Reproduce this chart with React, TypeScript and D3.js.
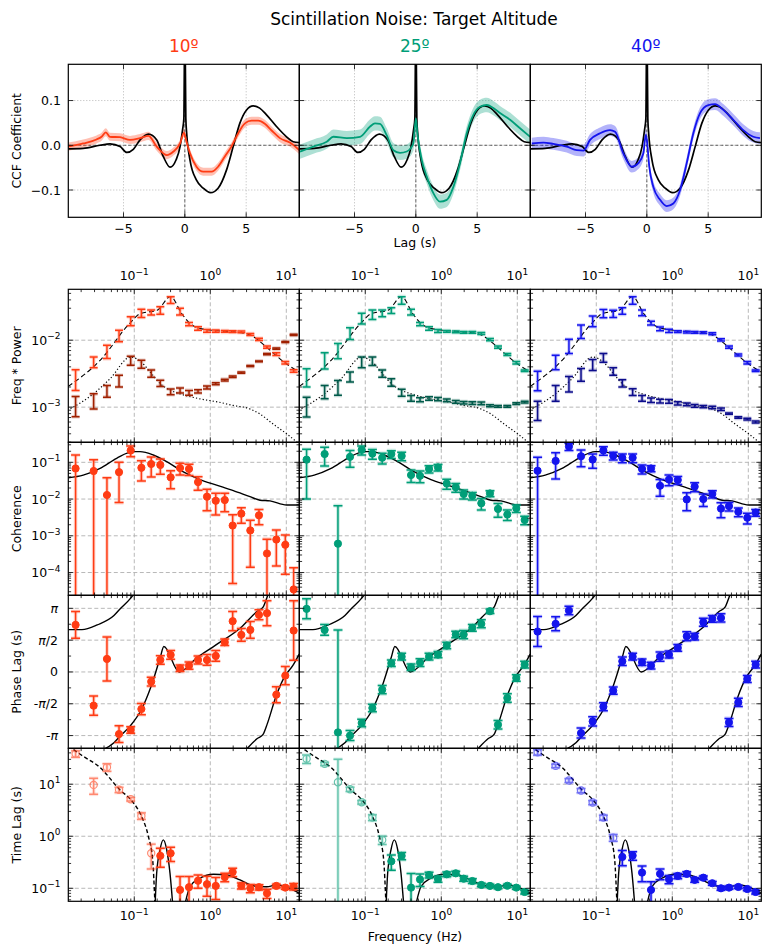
import * as d3 from "d3";

type Pt = [number, number];

const altitudes = ["10º", "25º", "40º"];
const mainColors = ["#ff3c14", "#009e78", "#1414ee"];
const darkColors = ["#a02000", "#005a4a", "#0c0c8c"];

// ---------- CCF (top row) ----------
const ccfModel: Pt[] = [
    [-9.5, -0.008], [-8.29, -0.007], [-6.92, 0.0], [-6.1, 0.003], [-5.28, -0.003],
    [-4.73, -0.016], [-4.2, -0.009], [-3.65, 0.012], [-2.97, 0.025], [-2.29, 0.012],
    [-1.76, -0.025], [-1.2, -0.049], [-0.72, -0.033], [-0.39, -0.003], [-0.19, 0.034],
    [-0.08, 0.06], [0, 0.3], [0.08, 0.06], [0.15, 0.027], [0.42, -0.033], [0.95, -0.078],
    [1.5, -0.096], [2.1, -0.106], [2.71, -0.096], [3.4, -0.055], [3.94, -0.003],
    [4.48, 0.049], [5.03, 0.079], [5.57, 0.088], [6.1, 0.083], [6.66, 0.068],
    [7.47, 0.042], [8.29, 0.019], [8.83, 0.008], [9.33, 0.006],
];
const ccf10: Pt[] = [
    [-9.5, -0.003], [-8.29, 0.004], [-7.2, 0.013], [-6.79, 0.019], [-6.44, 0.029],
    [-6.11, 0.019], [-5.28, 0.018], [-4.47, 0.012], [-3.65, 0.016], [-2.97, 0.021],
    [-2.29, -0.003], [-1.47, -0.022], [-0.93, -0.014], [-0.39, 0.004], [-0.07, 0.028],
    [0.1, 0.012], [0.42, -0.018], [0.95, -0.048], [1.5, -0.059], [2.18, -0.059],
    [2.71, -0.048], [3.26, -0.025], [3.8, -0.003], [4.35, 0.027], [4.9, 0.049],
    [5.44, 0.055], [5.98, 0.055], [6.52, 0.048], [7.07, 0.033], [7.75, 0.016],
    [8.56, 0.006], [9.33, -0.011],
];
const ccf25: Pt[] = [
    [-9.44, -0.014], [-8.35, -0.003], [-7.26, 0.008], [-6.72, 0.019], [-5.63, 0.016],
    [-4.55, 0.019], [-3.73, 0.042], [-3.33, 0.049], [-2.92, 0.048], [-2.37, 0.022],
    [-1.83, -0.011], [-1.29, -0.017], [-0.74, -0.014], [-0.2, 0.004], [0, 0.06],
    [0.12, 0.027], [0.48, -0.033], [0.89, -0.07], [1.43, -0.107], [1.97, -0.126],
    [2.52, -0.122], [3.06, -0.093], [3.6, -0.04], [4.15, 0.027], [4.69, 0.068],
    [5.23, 0.086], [5.78, 0.09], [6.32, 0.083], [6.86, 0.072], [7.68, 0.057],
    [8.49, 0.038], [9.31, 0.019],
];
const ccf40: Pt[] = [
    [-9.38, 0.004], [-8.43, 0.006], [-7.62, 0.003], [-6.53, -0.003], [-5.71, -0.011],
    [-5.17, -0.012], [-4.63, 0.012], [-3.81, 0.027], [-3.0, 0.034], [-2.59, 0.03],
    [-1.92, -0.018], [-1.23, -0.048], [-0.69, -0.04], [-0.28, -0.018], [-0.09, 0.023],
    [0, 0.012], [0.2, -0.048], [0.53, -0.093], [1.08, -0.122], [1.62, -0.136],
    [2.16, -0.13], [2.71, -0.1], [3.25, -0.04], [3.79, 0.027], [4.34, 0.072],
    [5.01, 0.09], [5.56, 0.092], [6.23, 0.079], [7.05, 0.057], [7.86, 0.034],
    [8.68, 0.019], [9.22, 0.016],
];
const ccfData = [ccf10, ccf25, ccf40];
const ccfBand = [0.009, 0.016, 0.013];
const ccfTicksX = [-5, 0, 5];
const ccfTicksY = [-0.1, 0, 0.1];

// ---------- frequency bins ----------
const freq = [
    0.0169, 0.0292, 0.0437, 0.063, 0.0897, 0.124, 0.167, 0.22, 0.301, 0.4, 0.525, 0.69,
    0.905, 1.18, 1.55, 1.97, 2.56, 3.36, 4.37, 5.57, 7.39, 9.7, 12.5,
];

// ---------- Freq * Power ----------
const pow10 = [0.0027, 0.00476, 0.00686, 0.0118, 0.0194, 0.0254, 0.026, 0.028, 0.04, 0.0268, 0.0174, 0.015, 0.0138, 0.01365, 0.0135, 0.0134, 0.0133, 0.0122, 0.0103, 0.0079, 0.0062, 0.0046, 0.00346];
const powErr10 = [0.00093, 0.00087, 0.00155, 0.0023, 0.003, 0.0035, 0.0022, 0.0035, 0.0046, 0.0031, 0.001, 0.0009, 0.0007, 0.0005, 0.0004, 0.0004, 0.0004, 0.0004, 0.0004, 0.0003, 0.0003, 0.0002, 0.00015];
const ref10 = [0.00108, 0.00126, 0.00176, 0.0025, 0.005, 0.0044, 0.0032, 0.00228, 0.0017, 0.00178, 0.00164, 0.00172, 0.00197, 0.00224, 0.00254, 0.00285, 0.00328, 0.0041, 0.00484, 0.0062, 0.0075, 0.0094, 0.012];
const refErr10 = [0.00036, 0.00032, 0.00035, 0.0005, 0.00077, 0.0006, 0.0004, 0.00024, 0.00017, 0.00016, 0.00014, 0.0001, 0.0001, 0.00008, 0.00008, 0.00007, 0.00007, 0.00007, 0.00006, 0.00012, 0.00015, 0.0002, 0.00025];

const pow25 = [0.00288, 0.0051, 0.0071, 0.0128, 0.0213, 0.0243, 0.0253, 0.0278, 0.0395, 0.0263, 0.0174, 0.015, 0.0137, 0.0135, 0.0133, 0.0131, 0.0131, 0.0126, 0.0102, 0.0079, 0.0061, 0.00462, 0.0035];
const powErr25 = [0.00088, 0.0014, 0.0018, 0.0026, 0.0039, 0.0039, 0.0029, 0.0027, 0.0052, 0.0026, 0.001, 0.0009, 0.0007, 0.0004, 0.0004, 0.0004, 0.0004, 0.0004, 0.0004, 0.0003, 0.0002, 0.0002, 0.0001];
const ref25 = [0.00106, 0.00172, 0.002, 0.00286, 0.00476, 0.0049, 0.0032, 0.00235, 0.00165, 0.00136, 0.00129, 0.00135, 0.00132, 0.00126, 0.0012, 0.00116, 0.00115, 0.00114, 0.00105, 0.00103, 0.00103, 0.00113, 0.00119];
const refErr25 = [0.00035, 0.00039, 0.0005, 0.00049, 0.00087, 0.0007, 0.0004, 0.0003, 0.0002, 0.00013, 0.00009, 0.00008, 0.00007, 0.00006, 0.00006, 0.00005, 0.00005, 0.00005, 0.00004, 0.00003, 0.00003, 0.00003, 0.00004];

const pow40 = [0.0026, 0.0048, 0.0083, 0.0137, 0.0194, 0.0252, 0.025, 0.0274, 0.0395, 0.0257, 0.018, 0.0148, 0.0138, 0.0134, 0.0132, 0.0131, 0.013, 0.0125, 0.0101, 0.0079, 0.006, 0.0046, 0.0035];
const powErr40 = [0.00085, 0.00117, 0.002, 0.0031, 0.0035, 0.0036, 0.0031, 0.0031, 0.0052, 0.0025, 0.0012, 0.001, 0.0008, 0.0004, 0.0004, 0.0004, 0.0004, 0.0004, 0.0004, 0.0003, 0.0002, 0.0002, 0.0001];
const ref40 = [0.00093, 0.00167, 0.00228, 0.0031, 0.00434, 0.0055, 0.00344, 0.00228, 0.00169, 0.00136, 0.00127, 0.00123, 0.00122, 0.00114, 0.0011, 0.00105, 0.00102, 0.00099, 0.00093, 0.0008, 0.0007, 0.00066, 0.0006];
const refErr40 = [0.0003, 0.00044, 0.0006, 0.00067, 0.0008, 0.0008, 0.00045, 0.00028, 0.0002, 0.00013, 0.0001, 0.00008, 0.00008, 0.00006, 0.00005, 0.00005, 0.00004, 0.00004, 0.00004, 0.00002, 0.00002, 0.00002, 0.00002];

const powModel: Pt[] = [
    [0.01355, 0.00204], [0.0355, 0.005], [0.0897, 0.0185], [0.12, 0.025], [0.2, 0.028],
    [0.3, 0.045], [0.42, 0.025], [0.54, 0.0178], [0.73, 0.015], [1.28, 0.0138],
    [2.0, 0.0133], [3.16, 0.0123], [4.28, 0.01], [5.52, 0.0078], [7.48, 0.0058],
    [10.1, 0.0044], [14.8, 0.00335],
];
const refModel: Pt[] = [
    [0.0145, 0.00095], [0.029, 0.00158], [0.048, 0.00266], [0.0897, 0.0056], [0.124, 0.0047],
    [0.167, 0.0032], [0.22, 0.00224], [0.3, 0.00178], [0.4, 0.00158], [0.73, 0.00133],
    [1.28, 0.00119], [2.0, 0.00106], [3.33, 0.00094], [4.5, 0.00079], [6.7, 0.00056],
    [10.1, 0.0004], [14.8, 0.00028],
];

// ---------- Coherence ----------
const coh10 = [0.068, 0.058, 0.0129, 0.054, 0.21, 0.071, 0.09, 0.085, 0.039, 0.07, 0.066, 0.029, 0.0116, 0.009, 0.0094, 0.0019, 0.004, 0.0014, 0.0036, 0.00033, 0.00079, 0.00057, 0.0000347];
const cohErr10 = [0.09, 0.06, 0.025, 0.046, 0.068, 0.04, 0.05, 0.038, 0.02, 0.025, 0.022, 0.0117, 0.0068, 0.0053, 0.0049, 0.00185, 0.0018, 0.00126, 0.0016, 0.00048, 0.00064, 0.00048, 0.0001];
const coh25 = [0.118, 0.168, 0.00061, 0.141, 0.218, 0.173, 0.133, 0.168, 0.149, 0.045, 0.043, 0.066, 0.073, 0.0264, 0.021, 0.0138, 0.0123, 0.0077, 0.0142, 0.0054, 0.0038, 0.0056, 0.0027];
const cohErr25 = [0.108, 0.089, 0.006, 0.068, 0.06, 0.052, 0.043, 0.04, 0.038, 0.0167, 0.015, 0.0145, 0.0146, 0.008, 0.0056, 0.0038, 0.0029, 0.0027, 0.0026, 0.0022, 0.0012, 0.0013, 0.0007];
const coh40 = [0.059, 0.109, 0.27, 0.146, 0.119, 0.21, 0.151, 0.133, 0.133, 0.066, 0.068, 0.023, 0.034, 0.033, 0.0098, 0.0218, 0.01, 0.0137, 0.0055, 0.0064, 0.0045, 0.0031, 0.0043];
const cohErr40 = [0.078, 0.074, 0.06, 0.07, 0.05, 0.055, 0.036, 0.035, 0.035, 0.018, 0.013, 0.011, 0.011, 0.008, 0.005, 0.006, 0.0037, 0.003, 0.0024, 0.0017, 0.0012, 0.001, 0.0009];
const cohModel: Pt[] = [
    [0.01355, 0.038], [0.0213, 0.045], [0.0355, 0.0686], [0.0586, 0.129], [0.097, 0.195],
    [0.119, 0.195], [0.178, 0.158], [0.267, 0.104], [0.442, 0.055], [0.731, 0.034],
    [1.21, 0.024], [2.01, 0.0169], [3.33, 0.0116], [4.51, 0.0093], [6.1, 0.0089],
    [10.1, 0.0069], [14.8, 0.0069],
];

// ---------- Phase lag (units of pi) ----------
const phase10 = [0.74, -0.53, 0.205, -0.976, -0.913, -0.583, -0.152, 0.189, 0.268, 0.058, 0.1, 0.189, 0.189, 0.252, 0.467, 0.798, 0.583, 0.661, 0.898, 0.924, -0.357, -0.058, 0.651];
const phaseErr10 = [0.21, 0.152, 0.346, 0.131, 0.052, 0.089, 0.07, 0.066, 0.07, 0.052, 0.058, 0.063, 0.084, 0.084, 0.052, 0.152, 0.102, 0.131, 0.079, 0.197, 0.126, 0.144, 0.467];
const phase25 = [0.992, 0.661, -0.95, -1.0, -0.803, -0.567, -0.278, 0.136, 0.241, 0.073, 0.147, 0.241, 0.273, 0.415, 0.588, 0.588, 0.693, 0.756, 0.955, -0.829, -0.409, -0.094, 0.115];
const phaseErr25 = [0.157, 0.084, 1.61, 0.079, 0.06, 0.06, 0.066, 0.052, 0.052, 0.052, 0.06, 0.052, 0.05, 0.052, 0.052, 0.065, 0.052, 0.063, 0.035, 0.066, 0.066, 0.052, 0.052];
const phase40 = [0.635, 0.756, 0.966, -0.961, -0.777, -0.546, -0.294, 0.168, 0.241, 0.152, 0.1, 0.241, 0.273, 0.378, 0.562, 0.556, 0.782, 0.835, 0.85, -0.793, -0.478, -0.11, 0.115];
const phaseErr40 = [0.236, 0.11, 0.068, 0.079, 0.071, 0.063, 0.058, 0.066, 0.052, 0.052, 0.052, 0.071, 0.055, 0.052, 0.071, 0.052, 0.063, 0.052, 0.066, 0.063, 0.063, 0.055, 0.052];
const phaseModel: Pt[] = [
    [0.01355, 0.666], [0.0205, 0.666], [0.0326, 0.74], [0.054, 0.887], [0.0649, 0.99],
    [0.0897, 1.16], [0.1236, 1.406], [0.1675, 1.784], [0.22, 2.23], [0.245, 2.4],
    [0.39, 2.0], [0.675, 2.23], [1.15, 2.414], [2.53, 2.7], [4.15, 2.954], [4.95, 3.02],
    [5.6, 3.18], [7.24, 3.6], [9.3, 3.906], [12.4, 4.115], [14.8, 4.28],
];
const phaseTicks = [-1, -0.5, 0, 0.5, 1];
const phaseLabels = ["-π", "-π/2", "0", "π/2", "π"];

// ---------- Time lag (s, negative = open marker) ----------
const lag10 = [-38.3, -9.7, -21.2, -7.8, -5.15, -2.46, -0.47, 0.42, 0.47, 0.093, 0.105, 0.14, 0.12, 0.111, 0.164, 0.205, 0.112, 0.1, 0.105, 0.08, 0.111, 0.103, 0.108];
const lagErr10 = [5.4, 3.3, 3.5, 0.9, 0.4, 0.35, 0.235, 0.167, 0.144, 0.075, 0.063, 0.04, 0.05, 0.05, 0.03, 0.038, 0.015, 0.018, 0.012, 0.016, 0.009, 0.007, 0.015];
const lag25 = [-30.7, -24.6, -10.9, -8.0, -4.5, -2.29, -0.85, 0.33, 0.42, 0.103, 0.148, 0.18, 0.151, 0.186, 0.194, 0.153, 0.138, 0.116, 0.111, 0.105, 0.112, 0.103, 0.085];
const lagErr25 = [5.7, 1.8, 19.3, 0.75, 0.35, 0.29, 0.155, 0.107, 0.067, 0.09, 0.04, 0.023, 0.02, 0.02, 0.018, 0.017, 0.014, 0.009, 0.008, 0.007, 0.007, 0.007, 0.007];
const lag40 = [-41.2, -22.5, -11.8, -7.55, -4.44, -2.29, -0.94, 0.4, 0.425, 0.2, 0.093, 0.19, 0.149, 0.173, 0.189, 0.145, 0.16, 0.125, 0.1, 0.103, 0.106, 0.097, 0.085];
const lagErr40 = [5, 1.8, 1.0, 0.7, 0.4, 0.25, 0.14, 0.13, 0.08, 0.067, 0.04, 0.044, 0.027, 0.02, 0.018, 0.015, 0.012, 0.01, 0.008, 0.007, 0.007, 0.007, 0.007];
const lagModelNeg: Pt[] = [
    [0.01355, 55], [0.015, 49], [0.0203, 36], [0.0354, 21], [0.0649, 7.76], [0.0925, 4.8],
    [0.125, 2.38], [0.153, 1.0], [0.1746, 0.35], [0.187, 0.05],
];
const lagModelPos1: Pt[] = [
    [0.188, 0.05], [0.197, 0.195], [0.218, 0.55], [0.241, 0.85], [0.267, 0.55], [0.295, 0.195], [0.32, 0.05],
];
const lagModelPos2: Pt[] = [
    [0.465, 0.05], [0.54, 0.107], [0.73, 0.156], [1.1, 0.186], [1.64, 0.18], [2.46, 0.145],
    [3.68, 0.112], [5.52, 0.107], [7.48, 0.116], [11.2, 0.1], [14.8, 0.08],
];

const powData = [[pow10, powErr10, ref10, refErr10], [pow25, powErr25, ref25, refErr25], [pow40, powErr40, ref40, refErr40]];
const cohData = [[coh10, cohErr10], [coh25, cohErr25], [coh40, cohErr40]];
const phaseData = [[phase10, phaseErr10], [phase25, phaseErr25], [phase40, phaseErr40]];
const lagData = [[lag10, lagErr10], [lag25, lagErr25], [lag40, lagErr40]];

// ---------- layout ----------
const COLS = [68.3, 299.3, 530.3];
const PW = 231;
const PH = 153;
const TOP_Y = 64.3;
const ROWS_Y = [289.3, 442.3, 595.3, 748.3];
const FONT = "DejaVu Sans, Verdana, sans-serif";
const GRID = "#b0b0b0";

const F_DOMAIN: Pt = [10 ** -1.868, 10 ** 1.171];
const POW_DOMAIN: Pt = [10 ** -3.525, 10 ** -1.24];
const COH_DOMAIN: Pt = [10 ** -4.62, 10 ** -0.455];
const PH_DOMAIN: Pt = [-1.2, 1.205];
const LAG_DOMAIN: Pt = [10 ** -1.25, 10 ** 1.69];

function logTicks([lo, hi]: Pt) {
    const major: number[] = [];
    const minor: number[] = [];
    for (let e = Math.floor(Math.log10(lo)); e <= Math.ceil(Math.log10(hi)); e++) {
        for (let m = 1; m <= 9; m++) {
            const v = m * Math.pow(10, e);
            if (v < lo * 0.999 || v > hi * 1.001) continue;
            (m === 1 ? major : minor).push(v);
        }
    }
    return { major, minor };
}

function Pow10({ x, y, v, anchor }: { x: number; y: number; v: number; anchor: string }) {
    const e = Math.round(Math.log10(v));
    return (
        <text x={x} y={y} textAnchor={anchor} fontSize={12.5}>
            10
            <tspan dy={-5.5} fontSize={9}>{e < 0 ? "\u2212" + -e : String(e)}</tspan>
        </text>
    );
}

interface PanelProps {
    id: string;
    x0: number;
    y0: number;
    xs: (v: number) => number;
    ys: (v: number) => number;
    xMajor: number[];
    xMinor: number[];
    yMajor: number[];
    yMinor: number[];
    gridDash: string;
    children?: any;
}

function Panel({ id, x0, y0, xs, ys, xMajor, xMinor, yMajor, yMinor, gridDash, children }: PanelProps) {
    const x1 = x0 + PW;
    const y1 = y0 + PH;
    const tk = (key: string, a: number, b: number, c: number, d: number) => (
        <line key={key} x1={a} y1={b} x2={c} y2={d} stroke="#000" strokeWidth={0.8} />
    );
    return (
        <g>
            <defs>
                <clipPath id={id}>
                    <rect x={x0} y={y0} width={PW} height={PH} />
                </clipPath>
            </defs>
            <g clipPath={`url(#${id})`}>
                {xMajor.map((v, i) => (
                    <line key={"gx" + i} x1={xs(v)} x2={xs(v)} y1={y0} y2={y1} stroke={GRID} strokeWidth={0.9} strokeDasharray={gridDash} />
                ))}
                {yMajor.map((v, i) => (
                    <line key={"gy" + i} x1={x0} x2={x1} y1={ys(v)} y2={ys(v)} stroke={GRID} strokeWidth={0.9} strokeDasharray={gridDash} />
                ))}
                {children}
            </g>
            <rect x={x0} y={y0} width={PW} height={PH} fill="none" stroke="#000" strokeWidth={1.2} />
            {xMajor.map((v, i) => [tk("xb" + i, xs(v), y1, xs(v), y1 - 5), tk("xt" + i, xs(v), y0, xs(v), y0 + 5)])}
            {xMinor.map((v, i) => [tk("mb" + i, xs(v), y1, xs(v), y1 - 2.8), tk("mt" + i, xs(v), y0, xs(v), y0 + 2.8)])}
            {yMajor.map((v, i) => [tk("yl" + i, x0, ys(v), x0 + 5, ys(v)), tk("yr" + i, x1, ys(v), x1 - 5, ys(v))])}
            {yMinor.map((v, i) => [tk("nl" + i, x0, ys(v), x0 + 2.8, ys(v)), tk("nr" + i, x1, ys(v), x1 - 2.8, ys(v))])}
        </g>
    );
}

// error bars with optional circle markers; negative values (lags) drawn open
function ErrorBars({
    f, v, e, xs, ys, color, log, bottom, marker, cap, signedOpen,
}: {
    f: number[]; v: number[]; e: number[]; xs: (x: number) => number; ys: (y: number) => number;
    color: string; log: boolean; bottom: number; marker: boolean; cap: number; signedOpen?: boolean;
}) {
    const yOf = (val: number) => (log && val <= 0 ? bottom + 40 : ys(val));
    return (
        <g>
            {f.map((fx, i) => {
                const open = !!signedOpen && v[i] < 0;
                const val = signedOpen ? Math.abs(v[i]) : v[i];
                const x = xs(fx);
                const yHi = yOf(val + e[i]);
                const yLo = yOf(val - e[i]);
                const y = yOf(val);
                const op = open ? 0.6 : 1;
                return (
                    <g key={i} opacity={op}>
                        <g stroke={color} strokeOpacity={0.22} strokeWidth={3.6} fill="none">
                            <line x1={x} x2={x} y1={yHi} y2={yLo} />
                            <line x1={x - cap} x2={x + cap} y1={yHi} y2={yHi} />
                            <line x1={x - cap} x2={x + cap} y1={yLo} y2={yLo} />
                        </g>
                        <g stroke={color} strokeWidth={1.5}>
                            <line x1={x} x2={x} y1={yHi} y2={yLo} />
                            <line x1={x - cap} x2={x + cap} y1={yHi} y2={yHi} />
                            <line x1={x - cap} x2={x + cap} y1={yLo} y2={yLo} />
                        </g>
                        {marker && (
                            <circle
                                cx={x}
                                cy={y}
                                r={3.6}
                                fill={open ? "none" : color}
                                stroke={color}
                                strokeWidth={open ? 1.2 : 1}
                            />
                        )}
                    </g>
                );
            })}
        </g>
    );
}

function Column({ c }: { c: number }) {
    const x0 = COLS[c];
    const color = mainColors[c];
    const dark = darkColors[c];

    // CCF
    const xc = d3.scaleLinear().domain([-9.5, 9.33]).range([x0, x0 + PW]);
    const yc = d3.scaleLinear().domain([-0.161, 0.181]).range([TOP_Y + PH, TOP_Y]);
    const ccfLine = d3.line<Pt>().x((d) => xc(d[0])).y((d) => yc(d[1])).curve(d3.curveMonotoneX);
    const band = d3
        .area<Pt>()
        .x((d) => xc(d[0]))
        .y0((d) => yc(d[1] - ccfBand[c]))
        .y1((d) => yc(d[1] + ccfBand[c]))
        .curve(d3.curveMonotoneX);

    const xf = d3.scaleLog().domain(F_DOMAIN).range([x0, x0 + PW]);
    const fT = logTicks(F_DOMAIN);
    const yp = d3.scaleLog().domain(POW_DOMAIN).range([ROWS_Y[0] + PH, ROWS_Y[0]]);
    const ych = d3.scaleLog().domain(COH_DOMAIN).range([ROWS_Y[1] + PH, ROWS_Y[1]]);
    const yph = d3.scaleLinear().domain(PH_DOMAIN).range([ROWS_Y[2] + PH, ROWS_Y[2]]);
    const yl = d3.scaleLog().domain(LAG_DOMAIN).range([ROWS_Y[3] + PH, ROWS_Y[3]]);
    const pT = logTicks(POW_DOMAIN);
    const cT = logTicks(COH_DOMAIN);
    const lT = logTicks(LAG_DOMAIN);

    const curve = (ys: (v: number) => number) =>
        d3.line<Pt>().x((d) => xf(d[0])).y((d) => ys(d[1])).curve(d3.curveMonotoneX);

    const [pw, pwE, rf, rfE] = powData[c];
    const [ch, chE] = cohData[c];
    const [ph, phE] = phaseData[c];
    const [lg, lgE] = lagData[c];

    return (
        <g>
            <text x={x0 + PW / 2} y={52} textAnchor="middle" fontSize={17} fill={color}>
                {altitudes[c]}
            </text>

            <Panel id={"ccf" + c} x0={x0} y0={TOP_Y} xs={xc} ys={yc} xMajor={ccfTicksX} xMinor={[]} yMajor={ccfTicksY} yMinor={[]} gridDash="1,2">
                <line x1={x0} x2={x0 + PW} y1={yc(0)} y2={yc(0)} stroke="#000" strokeWidth={0.6} strokeDasharray="3,2" />
                <line x1={xc(0)} x2={xc(0)} y1={TOP_Y} y2={TOP_Y + PH} stroke="#000" strokeWidth={0.6} strokeDasharray="3,2" />
                <path d={band(ccfData[c]) || ""} fill={color} fillOpacity={0.32} stroke="none" />
                <path d={ccfLine(ccfModel) || ""} fill="none" stroke="#000" strokeWidth={1.7} />
                <path d={ccfLine(ccfData[c]) || ""} fill="none" stroke={color} strokeWidth={1.8} />
            </Panel>
            {ccfTicksX.map((v) => (
                <text key={"cx" + v} x={xc(v)} y={233} textAnchor="middle" fontSize={12.5}>
                    {v < 0 ? "\u2212" + -v : String(v)}
                </text>
            ))}
            {c === 0 &&
                ccfTicksY.map((v) => (
                    <text key={"cy" + v} x={61} y={yc(v) + 4.5} textAnchor="end" fontSize={12.5}>
                        {v < 0 ? "\u2212" + (-v).toFixed(1) : v.toFixed(1)}
                    </text>
                ))}

            {/* Freq * Power */}
            <Panel id={"pow" + c} x0={x0} y0={ROWS_Y[0]} xs={xf} ys={yp} xMajor={fT.major} xMinor={fT.minor} yMajor={pT.major} yMinor={pT.minor} gridDash="4,2.5">
                <path d={curve(yp)(powModel) || ""} fill="none" stroke="#000" strokeWidth={1.1} strokeDasharray="5,3" />
                <path d={curve(yp)(refModel) || ""} fill="none" stroke="#000" strokeWidth={1.2} strokeDasharray="1.2,2.2" />
                <ErrorBars f={freq} v={pw} e={pwE} xs={xf} ys={yp} color={color} log bottom={ROWS_Y[0] + PH} marker={false} cap={4} />
                <ErrorBars f={freq} v={rf} e={rfE} xs={xf} ys={yp} color={dark} log bottom={ROWS_Y[0] + PH} marker={false} cap={4} />
            </Panel>
            {fT.major.map((v, i) => (
                <Pow10 key={"pt" + i} x={xf(v)} y={280} v={v} anchor="middle" />
            ))}

            {/* Coherence */}
            <Panel id={"coh" + c} x0={x0} y0={ROWS_Y[1]} xs={xf} ys={ych} xMajor={fT.major} xMinor={fT.minor} yMajor={cT.major} yMinor={cT.minor} gridDash="4,2.5">
                <path d={curve(ych)(cohModel) || ""} fill="none" stroke="#000" strokeWidth={1.4} />
                <ErrorBars f={freq} v={ch} e={chE} xs={xf} ys={ych} color={color} log bottom={ROWS_Y[1] + PH} marker cap={4.5} />
            </Panel>

            {/* Phase lag */}
            <Panel id={"ph" + c} x0={x0} y0={ROWS_Y[2]} xs={xf} ys={yph} xMajor={fT.major} xMinor={fT.minor} yMajor={phaseTicks} yMinor={[-0.75, -0.25, 0.25, 0.75]} gridDash="4,2.5">
                {[0, -2, -4].map((s) => (
                    <path
                        key={"pm" + s}
                        d={curve(yph)(phaseModel.map(([f, p]) => [f, p + s] as Pt)) || ""}
                        fill="none"
                        stroke="#000"
                        strokeWidth={1.4}
                    />
                ))}
                <ErrorBars f={freq} v={ph} e={phE} xs={xf} ys={yph} color={color} log={false} bottom={ROWS_Y[2] + PH} marker cap={4.5} />
            </Panel>

            {/* Time lag */}
            <Panel id={"lag" + c} x0={x0} y0={ROWS_Y[3]} xs={xf} ys={yl} xMajor={fT.major} xMinor={fT.minor} yMajor={lT.major} yMinor={lT.minor} gridDash="4,2.5">
                <path d={curve(yl)(lagModelNeg) || ""} fill="none" stroke="#000" strokeWidth={1.4} strokeDasharray="4,2.5" />
                <path d={curve(yl)(lagModelPos1) || ""} fill="none" stroke="#000" strokeWidth={1.4} />
                <path d={curve(yl)(lagModelPos2) || ""} fill="none" stroke="#000" strokeWidth={1.4} />
                <ErrorBars f={freq} v={lg} e={lgE} xs={xf} ys={yl} color={color} log bottom={ROWS_Y[3] + PH} marker cap={4.5} signedOpen />
            </Panel>
            {fT.major.map((v, i) => (
                <Pow10 key={"bt" + i} x={xf(v)} y={920} v={v} anchor="middle" />
            ))}

            {c === 0 && (
                <g>
                    {pT.major.map((v, i) => (
                        <Pow10 key={"py" + i} x={60.5} y={yp(v) + 4.5} v={v} anchor="end" />
                    ))}
                    {cT.major.map((v, i) => (
                        <Pow10 key={"cy" + i} x={60.5} y={ych(v) + 4.5} v={v} anchor="end" />
                    ))}
                    {lT.major.map((v, i) => (
                        <Pow10 key={"ly" + i} x={60.5} y={yl(v) + 4.5} v={v} anchor="end" />
                    ))}
                    {phaseTicks.map((v, i) => (
                        <text key={"phy" + i} x={58} y={yph(v) + 4.5} textAnchor="end" fontSize={12.5}>
                            {phaseLabels[i].split("").map((ch, k) =>
                                ch === "π" ? (
                                    <tspan key={k} fontStyle="italic">π</tspan>
                                ) : (
                                    <tspan key={k}>{ch}</tspan>
                                ),
                            )}
                        </text>
                    ))}
                </g>
            )}
        </g>
    );
}

const yLabels = [
    { text: "CCF Coefficient", y: TOP_Y + PH / 2 },
    { text: "Freq * Power", y: ROWS_Y[0] + PH / 2 },
    { text: "Coherence", y: ROWS_Y[1] + PH / 2 },
    { text: "Phase Lag (s)", y: ROWS_Y[2] + PH / 2 },
    { text: "Time Lag (s)", y: ROWS_Y[3] + PH / 2 },
];

export default function App() {
    return (
        <svg
            width={778}
            height={951}
            style={{ position: "absolute", left: 0, top: 0, display: "block" }}
            fontFamily={FONT}
        >
            <rect width={778} height={951} fill="#fff" />
            <text x={414} y={25} textAnchor="middle" fontSize={17}>
                Scintillation Noise: Target Altitude
            </text>
            {[0, 1, 2].map((c) => (
                <Column key={c} c={c} />
            ))}
            {yLabels.map((l) => (
                <text key={l.text} transform={`translate(20.5,${l.y}) rotate(-90)`} textAnchor="middle" fontSize={12.5}>
                    {l.text}
                </text>
            ))}
            <text x={415} y={247} textAnchor="middle" fontSize={12.5}>
                Lag (s)
            </text>
            <text x={415} y={941} textAnchor="middle" fontSize={12.5}>
                Frequency (Hz)
            </text>
        </svg>
    );
}
